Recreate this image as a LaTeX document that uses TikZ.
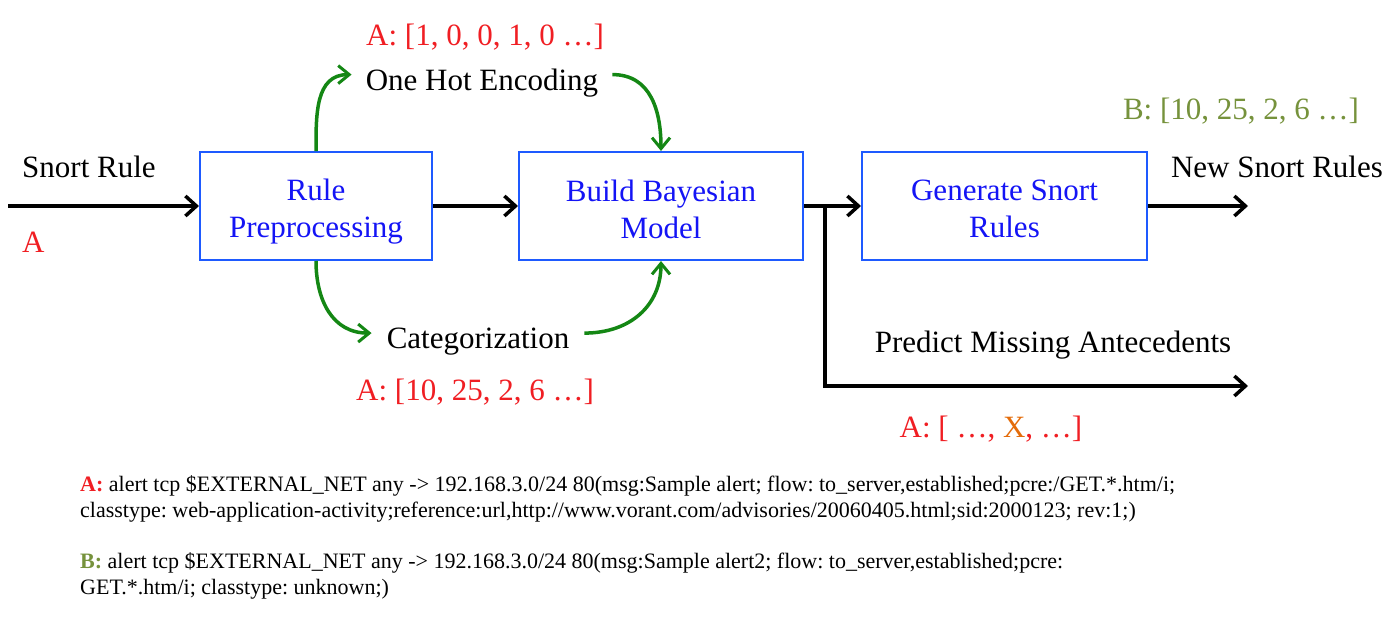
\documentclass[tikz,border=0pt]{standalone}
\usepackage{fontspec}
\setmainfont{Liberation Serif}
\usetikzlibrary{arrows.meta}
\definecolor{myred}{RGB}{240,30,35}
\definecolor{myolive}{RGB}{118,146,60}
\definecolor{myorange}{RGB}{228,108,10}
\definecolor{boxblue}{RGB}{30,90,255}
\definecolor{txtblue}{RGB}{20,20,245}
\definecolor{mygreen}{RGB}{20,135,20}
\frenchspacing
\tikzset{
  procbox/.style={draw=boxblue, line width=2pt, inner sep=0pt},
  boxlbl/.style={text=txtblue, align=center, font=\fontsize{31}{37}\selectfont, inner sep=0pt, yshift=-6pt},
  lbl/.style={font=\fontsize{31}{36}\selectfont, inner sep=0pt},
  blk/.style={line width=4pt, -{Straight Barb[length=11pt,width=20pt,line width=3.5pt]}},
  grn/.style={draw=mygreen, line width=3.5pt, -{Straight Barb[length=11pt,width=18pt,line width=3pt]}},
  rulestxt/.style={font=\fontsize{22}{26}\selectfont, align=left, inner sep=0pt, anchor=base west}
}
\begin{document}
\begin{tikzpicture}[x=1pt,y=1pt]
\useasboundingbox (0,0) rectangle (1390,-616);
\node[procbox, minimum width=232pt, minimum height=108pt, label={[boxlbl]center:{Rule\\Preprocessing}}] (b1) at (316,-206) {};
\node[procbox, minimum width=284pt, minimum height=108pt, label={[boxlbl, yshift=3pt]center:{Build Bayesian\\Model}}] (b2) at (661,-206) {};
\node[procbox, minimum width=285pt, minimum height=108pt, label={[boxlbl, yshift=3pt]center:{Generate Snort\\Rules}}] (b3) at (1004.5,-206) {};

\coordinate (start) at (8,-206);
\coordinate (br) at (825,-206);
\coordinate (oend) at (1248,-206);
\coordinate (pend) at (1248,-386);

\draw[blk] (start) -- (b1);
\draw[blk] (b1) -- (b2);
\draw[blk] (b2) -- (b3);
\draw[blk] (b3) -- (oend);
\draw[blk, line cap=rect] (br) |- (pend);

\node[lbl, anchor=base west] (snort) at (22,-177) {Snort Rule};
\node[lbl, anchor=base west, text=myred] (a0) at (22,-252) {A};
\node[lbl, anchor=base, inner xsep=14pt] (ohe) at (482,-90) {One Hot Encoding};
\node[lbl, anchor=base, text=myred] (av1) at (485,-45) {A: [1, 0, 0, 1, 0 …]};
\node[lbl, anchor=base, inner xsep=15pt] (cat) at (478,-348) {Categorization};
\node[lbl, anchor=base, text=myred] (av2) at (475,-400) {A: [10, 25, 2, 6 …]};
\node[lbl, anchor=base, text=myolive] (bv) at (1241,-119) {B: [10, 25, 2, 6 …]};
\node[lbl, anchor=base] (nsr) at (1277,-177) {New Snort Rules};
\node[lbl, anchor=base] (pma) at (1053,-352) {Predict Missing Antecedents};
\node[lbl, anchor=base, text=myred] (av3) at (991,-437) {A: [ …, {\color{myorange}X}, …]};

\draw[grn] (b1.north) to[out=90, in=180, looseness=1.1] ([yshift=8pt]ohe.west);
\draw[grn] ([yshift=8pt]ohe.east) to[out=0, in=90, looseness=1.1] (b2.north);
\draw[grn] (b1.south) to[out=-90, in=180, looseness=1.1] ([yshift=8pt]cat.west);
\draw[grn] ([yshift=8pt]cat.east) to[out=0, in=-90, looseness=1.1] (b2.south);

\node[rulestxt] (ra) at (80,-517) {{\color{myred}\textbf{A:}} alert tcp \$EXTERNAL\_NET any -> 192.168.3.0/24 80(msg:Sample alert; flow: to\_server,established;pcre:/GET.*.htm/i;\\classtype: web-application-activity;reference:url,http://www.vorant.com/advisories/20060405.html;sid:2000123; rev:1;)};
\node[rulestxt] (rb) at (80,-594) {{\color{myolive}\textbf{B:}} alert tcp \$EXTERNAL\_NET any -> 192.168.3.0/24 80(msg:Sample alert2; flow: to\_server,established;pcre:\\GET.*.htm/i; classtype: unknown;)};
\end{tikzpicture}
\end{document}
